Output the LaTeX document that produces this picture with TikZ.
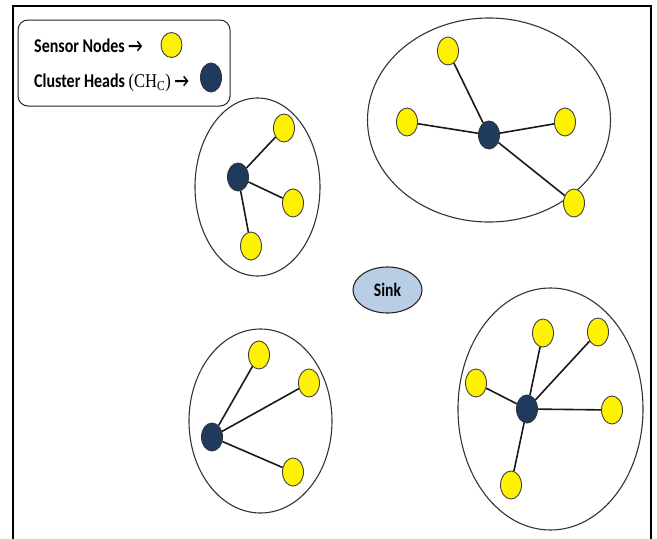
\documentclass[tikz,border=0pt]{standalone}
\usepackage{fontspec}
\setmainfont{Carlito}
\newfontfamily\legendfont[FakeStretch=0.82]{Carlito}
\newfontfamily\seriffont[FakeStretch=0.85]{Liberation Serif}
\usetikzlibrary{shapes.geometric}
\tikzset{
  sensor/.style={ellipse, draw=black!75, line width=0.9pt, fill=yellow,
    minimum width=21pt, minimum height=28pt, inner sep=0pt},
  head/.style={ellipse, draw=black!80, line width=0.9pt, fill=headblue,
    minimum width=21pt, minimum height=28pt, inner sep=0pt},
  cluster/.style={ellipse, draw=black!80, line width=1.1pt, inner sep=0pt},
  link/.style={line width=1.6pt, black!90},
  legendtext/.style={anchor=base west, inner sep=0pt,
    font=\legendfont\bfseries\fontsize{19.5}{21}\selectfont},
}
\definecolor{headblue}{HTML}{1F3A5C}
\definecolor{sinkblue}{HTML}{B9CDE5}
\begin{document}
\begin{tikzpicture}[x=1pt, y=-1pt]
\useasboundingbox (0,0) rectangle (657,539);
% outer frame, open at the bottom
\coordinate (fbl) at (13,539);
\coordinate (ftl) at (13,6);
\coordinate (ftr) at (651,6);
\coordinate (fbr) at (651,539);
\draw[line width=1.8pt] (fbl) -- (ftl) -- (ftr) -- (fbr);

% legend
\node[draw=black!85, line width=1pt, rounded corners=10pt,
  minimum width=212pt, minimum height=86pt] (legend) at (124,63) {};
\node[legendtext] (ltxt1) at (34,52) {Sensor Nodes →};
\node[legendtext] (ltxt2) at (34,87) {Cluster Heads {\seriffont\mdseries (CH\textsubscript{C})} →};
\node[sensor, minimum height=25pt] (lsensor) at (171.5,45) {};
\node[head, minimum height=29pt] (lhead) at (211,77.5) {};

% sink
\node[ellipse, draw=black!85, line width=1.1pt, fill=sinkblue,
  minimum width=69pt, minimum height=46pt, inner sep=0pt,
  font=\legendfont\bfseries\fontsize{19}{21}\selectfont] (sink) at (387.5,290) {Sink};

% cluster 1 (upper left)
\node[cluster, minimum width=125pt, minimum height=178pt] (cl1) at (257.5,187) {};
\node[head] (h1) at (238,177) {};
\node[sensor] (s11) at (284,128) {};
\node[sensor] (s12) at (293,203) {};
\node[sensor] (s13) at (251,246) {};
\foreach \s in {s11,s12,s13} \draw[link] (h1) -- (\s);

% cluster 2 (upper right)
\node[cluster, minimum width=243pt, minimum height=204pt] (cl2) at (489,120) {};
\node[head] (h2) at (489,135) {};
\node[sensor] (s21) at (448,51) {};
\node[sensor] (s22) at (407,122) {};
\node[sensor] (s23) at (565,122) {};
\node[sensor] (s24) at (574,203) {};
\foreach \s in {s21,s22,s23,s24} \draw[link] (h2) -- (\s);

% cluster 3 (lower left)
\node[cluster, minimum width=143pt, minimum height=184pt] (cl3) at (260.5,421) {};
\node[head] (h3) at (212,437) {};
\node[sensor] (s31) at (259,355) {};
\node[sensor] (s32) at (309,383) {};
\node[sensor] (s33) at (293,472) {};
\foreach \s in {s31,s32,s33} \draw[link] (h3) -- (\s);

% cluster 4 (lower right)
\node[cluster, minimum width=185pt, minimum height=242pt] (cl4) at (550.5,409) {};
\node[head] (h4) at (527,409) {};
\node[sensor] (s41) at (543,333) {};
\node[sensor] (s42) at (598,332) {};
\node[sensor] (s43) at (476,383) {};
\node[sensor] (s44) at (612,410) {};
\node[sensor] (s45) at (511,485) {};
\foreach \s in {s41,s42,s43,s44,s45} \draw[link] (h4) -- (\s);
\end{tikzpicture}
\end{document}
